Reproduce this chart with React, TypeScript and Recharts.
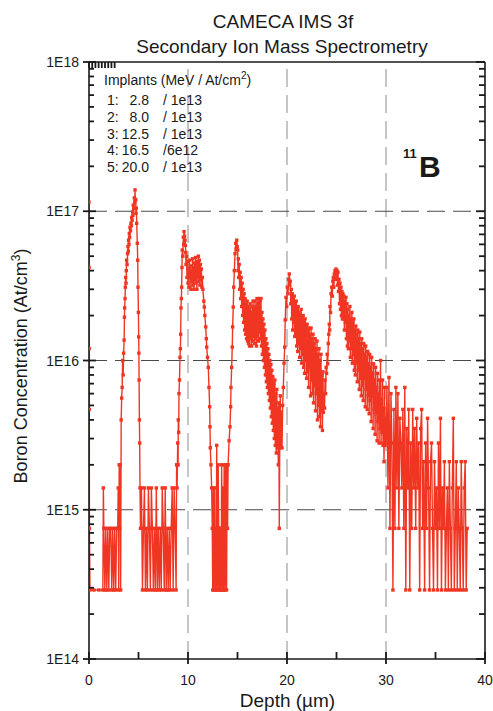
import React from "react";
import { LineChart, Line, XAxis, YAxis, ReferenceLine } from "recharts";

const INK = "#1a1a1a";
const TRACE = "#f03623";
const FONT = '"Liberation Sans", Arial, Helvetica, sans-serif';

// SIMS depth profile, [depth (µm), boron concentration (at/cm3)]
const surface = [
  [0, 1.15e17], [0.01, 4.2e16], [0.02, 1.2e16], [0.03, 4.7e15], [0.04, 7.5e14], [0.1, 2.9e14],
];

const background0 = [
  [0.5, 2.9e14], [1.0, 2.9e14], [1.4, 2.9e14], [1.45, 1.4e15], [1.5, 7.5e14], [1.6, 2.9e14],
  [1.7, 7.5e14], [1.8, 2.9e14], [1.9, 7.5e14], [2.0, 2.9e14], [2.1, 7.5e14], [2.2, 7.5e14],
  [2.3, 2.9e14], [2.4, 7.5e14], [2.5, 2.9e14], [2.6, 7.5e14], [2.7, 2.9e14], [2.8, 7.5e14],
  [2.9, 7.5e14],
];

const implant1 = [
  [2.95, 1.4e15], [3.0, 2.9e14], [3.05, 2.0e15], [3.1, 7.5e14], [3.15, 2.0e15], [3.2, 2.9e14],
  [3.25, 4.0e15], [3.3, 5.6e15], [3.35, 6.6e15], [3.4, 1.0e16], [3.45, 8.0e15], [3.5, 1.12e16],
  [3.55, 1.37e16], [3.58, 1.95e16], [3.6, 2.25e16], [3.64, 2.6e16], [3.67, 3.1e16], [3.7, 3.6e16],
  [3.74, 3.3e16], [3.77, 4.0e16], [3.8, 4.7e16], [3.85, 4.4e16], [3.9, 5.2e16], [3.94, 5.8e16],
  [3.97, 5.4e16], [4.0, 6.4e16], [4.04, 6.0e16], [4.07, 7.1e16], [4.1, 6.7e16], [4.14, 7.8e16],
  [4.19, 7.4e16], [4.24, 8.3e16], [4.28, 8.0e16], [4.31, 9.1e16], [4.36, 8.7e16], [4.41, 9.9e16],
  [4.44, 9.4e16], [4.47, 1.1e17], [4.52, 1.04e17], [4.58, 1.23e17], [4.62, 1.15e17], [4.65, 1.39e17],
  [4.68, 1.2e17], [4.72, 1.19e17], [4.75, 9.7e16], [4.78, 1.05e17], [4.82, 8.3e16], [4.88, 6.1e16],
  [4.92, 4.7e16], [4.95, 3.1e16], [4.99, 2.1e16], [5.02, 1.44e16], [5.04, 1.12e16], [5.06, 7.4e15],
  [5.09, 4.0e15], [5.12, 2.8e15], [5.15, 1.4e15], [5.2, 7.5e14],
];

const background1 = [
  [5.3, 1.4e15], [5.4, 2.9e14], [5.5, 7.5e14], [5.6, 1.4e15], [5.7, 2.9e14], [5.8, 7.5e14],
  [5.9, 2.9e14], [6.0, 1.4e15], [6.1, 7.5e14], [6.2, 2.9e14], [6.3, 1.4e15], [6.4, 7.5e14],
  [6.5, 2.9e14], [6.6, 7.5e14], [6.7, 2.9e14], [6.8, 1.4e15], [6.9, 2.9e14], [7.0, 7.5e14],
  [7.1, 2.9e14], [7.2, 7.5e14], [7.3, 2.9e14], [7.4, 1.4e15], [7.5, 7.5e14], [7.6, 2.9e14],
  [7.7, 1.4e15], [7.8, 2.9e14], [7.9, 7.5e14], [8.0, 2.9e14], [8.1, 7.5e14], [8.2, 2.9e14],
  [8.3, 7.5e14], [8.4, 1.4e15], [8.5, 2.9e14], [8.6, 1.4e15], [8.7, 7.5e14], [8.8, 2.9e14],
];

const implant2 = [
  [8.85, 2.0e15], [8.9, 1.4e15], [8.93, 2.0e15], [8.96, 2.8e15], [9.0, 2.0e15], [9.02, 4.0e15],
  [9.06, 3.3e15], [9.09, 6.0e15], [9.14, 7.4e15], [9.19, 1.05e16], [9.23, 1.2e16], [9.26, 1.5e16],
  [9.29, 2.25e16], [9.33, 2.6e16], [9.36, 3.1e16], [9.39, 4.2e16], [9.42, 5.5e16], [9.47, 5.0e16],
  [9.53, 6.7e16], [9.57, 6.0e16], [9.6, 7.3e16], [9.65, 6.8e16], [9.7, 6.4e16], [9.74, 5.9e16],
  [9.77, 5.3e16], [9.8, 4.4e16], [9.85, 5.0e16], [9.9, 3.6e16], [9.95, 4.6e16], [10.0, 3.3e16],
  [10.05, 4.1e16], [10.1, 3.1e16], [10.15, 4.7e16], [10.2, 3.6e16], [10.25, 4.3e16], [10.3, 3.0e16],
  [10.35, 4.0e16], [10.4, 3.4e16], [10.45, 4.8e16], [10.5, 3.2e16], [10.55, 4.2e16], [10.6, 3.0e16],
  [10.65, 4.5e16], [10.7, 3.5e16], [10.75, 4.9e16], [10.8, 3.3e16], [10.85, 4.4e16], [10.9, 3.0e16],
  [10.95, 4.6e16], [11.0, 3.6e16], [11.05, 5.0e16], [11.1, 3.4e16], [11.15, 4.7e16], [11.2, 3.2e16],
  [11.25, 4.4e16], [11.3, 3.5e16], [11.35, 4.1e16], [11.4, 3.1e16], [11.45, 3.6e16], [11.5, 3.0e16],
  [11.6, 2.5e16], [11.65, 2.28e16], [11.7, 2.0e16], [11.79, 1.68e16], [11.85, 1.4e16], [11.89, 1.23e16],
  [11.97, 1.05e16], [12.05, 9.0e15], [12.12, 6.6e15], [12.19, 4.9e15], [12.22, 3.6e15], [12.25, 2.6e15],
  [12.32, 2.0e15], [12.39, 1.4e15], [12.45, 7.5e14],
];

const background2 = [
  [12.5, 2.9e14], [12.55, 1.4e15], [12.6, 2.9e14], [12.65, 7.5e14], [12.7, 1.4e15], [12.75, 2.9e14],
  [12.8, 7.5e14], [12.85, 2.9e14], [12.9, 2.7e15], [12.95, 7.5e14], [13.0, 2.9e14], [13.05, 2.0e15],
  [13.1, 7.5e14], [13.15, 2.9e14], [13.2, 7.5e14], [13.25, 2.9e14], [13.3, 7.5e14], [13.35, 2.9e14],
  [13.4, 2.0e15], [13.45, 7.5e14], [13.5, 2.9e14], [13.55, 1.4e15], [13.6, 2.9e14], [13.65, 2.0e15],
  [13.7, 7.5e14], [13.75, 2.9e14], [13.8, 2.0e15], [13.85, 1.4e15], [13.9, 2.9e14], [13.95, 2.0e15],
  [14.0, 7.5e14], [14.05, 2.0e15],
];

const implant3 = [
  [14.15, 2.9e15], [14.24, 3.6e15], [14.31, 4.9e15], [14.34, 6.6e15], [14.41, 9.0e15], [14.47, 1.23e16],
  [14.51, 1.68e16], [14.57, 2.28e16], [14.62, 3.1e16], [14.68, 4.0e16], [14.75, 5.2e16], [14.82, 6.1e16],
  [14.87, 5.6e16], [14.92, 6.4e16], [14.97, 5.8e16], [15.02, 5.5e16], [15.05, 4.0e16], [15.08, 4.8e16],
  [15.12, 3.6e16], [15.17, 4.4e16], [15.22, 3.0e16], [15.27, 3.9e16], [15.32, 2.6e16], [15.37, 3.6e16],
  [15.42, 2.3e16], [15.47, 3.3e16], [15.52, 2.0e16], [15.57, 3.0e16], [15.62, 1.8e16], [15.67, 2.8e16],
  [15.72, 1.6e16], [15.77, 2.6e16], [15.82, 1.5e16], [15.87, 2.4e16], [15.92, 1.4e16], [15.97, 2.5e16],
  [16.02, 1.35e16], [16.07, 2.3e16], [16.12, 1.3e16], [16.17, 2.2e16], [16.22, 1.25e16], [16.27, 2.4e16],
  [16.32, 1.4e16], [16.37, 2.1e16], [16.42, 1.25e16], [16.47, 2.3e16], [16.52, 1.35e16], [16.57, 2.5e16],
  [16.62, 1.45e16], [16.67, 2.2e16], [16.72, 1.3e16], [16.77, 2.5e16], [16.82, 1.4e16], [16.87, 2.3e16],
  [16.92, 1.25e16], [16.97, 2.6e16], [17.02, 1.45e16], [17.07, 2.4e16], [17.12, 1.35e16], [17.17, 2.6e16],
  [17.22, 1.55e16], [17.27, 2.5e16], [17.32, 1.4e16], [17.37, 2.6e16], [17.42, 1.25e16], [17.47, 2.1e16],
  [17.52, 1.1e16], [17.57, 1.9e16], [17.62, 1.0e16], [17.67, 1.75e16], [17.72, 9.0e15], [17.77, 1.6e16],
  [17.82, 8.0e15], [17.87, 1.4e16], [17.92, 7.2e15], [17.97, 1.3e16], [18.02, 6.6e15], [18.07, 1.2e16],
  [18.12, 6.0e15], [18.17, 1.1e16], [18.22, 5.4e15], [18.27, 1.0e16], [18.32, 4.8e15], [18.37, 9.4e15],
  [18.42, 4.2e15], [18.47, 8.6e15], [18.52, 3.8e15], [18.57, 7.8e15], [18.62, 3.4e15], [18.67, 7.0e15],
  [18.72, 3.0e15], [18.77, 7.4e15], [18.82, 2.7e15], [18.87, 6.0e15], [18.92, 2.4e15], [18.97, 6.4e15],
  [19.02, 2.6e15], [19.07, 4.8e15], [19.12, 2.0e15], [19.17, 5.2e15], [19.22, 7.5e14], [19.27, 3.0e15],
  [19.32, 5.8e15], [19.37, 2.6e15], [19.42, 4.5e15],
];

const implant4 = [
  [19.5, 2.6e15], [19.56, 5.0e15], [19.63, 6.6e15], [19.7, 9.6e15], [19.77, 1.23e16], [19.82, 1.87e16],
  [19.9, 2.65e16], [19.97, 2.3e16], [20.03, 3.1e16], [20.1, 2.8e16], [20.17, 3.5e16], [20.23, 3.8e16],
  [20.28, 3.2e16], [20.33, 3.4e16], [20.38, 2.4e16], [20.43, 3.0e16], [20.48, 1.9e16], [20.53, 2.8e16],
  [20.58, 1.6e16], [20.63, 2.6e16], [20.68, 1.8e16], [20.73, 2.7e16], [20.78, 1.45e16], [20.83, 2.4e16],
  [20.88, 1.5e16], [20.93, 2.5e16], [20.98, 1.25e16], [21.03, 2.2e16], [21.08, 1.15e16], [21.13, 2.3e16],
  [21.18, 1.3e16], [21.23, 2.1e16], [21.28, 1.05e16], [21.33, 2.0e16], [21.38, 1.2e16], [21.43, 2.2e16],
  [21.48, 9.6e15], [21.53, 1.9e16], [21.58, 1.1e16], [21.63, 2.0e16], [21.68, 9.0e15], [21.73, 1.8e16],
  [21.78, 8.2e15], [21.83, 1.9e16], [21.88, 1.0e16], [21.93, 1.7e16], [21.98, 7.6e15], [22.03, 1.75e16],
  [22.08, 8.4e15], [22.13, 1.6e16], [22.18, 6.6e15], [22.23, 1.65e16], [22.28, 9.0e15], [22.33, 1.5e16],
  [22.38, 5.8e15], [22.43, 1.65e16], [22.48, 7.4e15], [22.53, 1.4e16], [22.58, 6.0e15], [22.63, 1.5e16],
  [22.68, 5.2e15], [22.73, 1.3e16], [22.78, 6.8e15], [22.83, 1.4e16], [22.88, 4.6e15], [22.93, 1.2e16],
  [22.98, 6.0e15], [23.03, 1.35e16], [23.08, 4.0e15], [23.13, 1.1e16], [23.18, 5.0e15], [23.23, 1.2e16],
  [23.28, 4.2e15], [23.33, 1.0e16], [23.38, 3.6e15], [23.43, 1.1e16], [23.48, 4.6e15], [23.53, 8.0e15],
  [23.58, 3.4e15], [23.63, 8.4e15], [23.68, 4.5e15],
];

const implant5 = [
  [23.74, 6.0e15], [23.8, 4.8e15], [23.84, 7.4e15], [23.9, 6.0e15], [23.95, 9.0e15], [24.0, 8.2e15],
  [24.06, 1.1e16], [24.11, 9.5e15], [24.17, 1.3e16], [24.22, 1.5e16], [24.27, 1.75e16], [24.31, 1.6e16],
  [24.34, 2.3e16], [24.4, 2.1e16], [24.45, 2.8e16], [24.52, 3.1e16], [24.58, 2.7e16], [24.63, 3.4e16],
  [24.68, 3.6e16], [24.73, 3.1e16], [24.78, 3.8e16], [24.85, 4.0e16], [24.9, 3.5e16], [24.95, 4.1e16],
  [25.0, 3.7e16], [25.05, 4.0e16], [25.1, 3.2e16], [25.15, 3.9e16], [25.2, 2.9e16], [25.25, 3.5e16],
  [25.3, 2.4e16], [25.35, 3.3e16], [25.4, 2.2e16], [25.45, 3.1e16], [25.5, 2.0e16], [25.55, 2.9e16],
  [25.6, 1.9e16], [25.65, 2.8e16], [25.7, 1.9e16], [25.75, 2.7e16], [25.8, 1.6e16], [25.85, 2.5e16],
  [25.9, 1.8e16], [25.95, 2.65e16], [26.0, 1.4e16], [26.05, 2.4e16], [26.1, 1.25e16], [26.15, 2.2e16],
  [26.2, 1.2e16], [26.25, 2.0e16], [26.3, 1.35e16], [26.35, 2.3e16], [26.4, 1.05e16], [26.45, 1.9e16],
  [26.5, 1.2e16], [26.55, 2.1e16], [26.6, 9.6e15], [26.65, 1.8e16], [26.7, 1.1e16], [26.75, 1.9e16],
  [26.8, 8.6e15], [26.85, 1.6e16], [26.9, 8.0e15], [26.95, 1.7e16], [27.0, 9.6e15], [27.05, 1.5e16],
  [27.1, 7.2e15], [27.15, 1.6e16], [27.2, 8.6e15], [27.25, 1.4e16], [27.3, 6.4e15], [27.35, 1.55e16],
  [27.4, 7.6e15], [27.45, 1.3e16], [27.5, 5.8e15], [27.55, 1.4e16], [27.6, 6.8e15], [27.65, 1.2e16],
  [27.7, 5.4e15], [27.75, 1.3e16], [27.8, 7.6e15], [27.85, 1.1e16], [27.9, 4.9e15], [27.95, 1.25e16],
  [28.0, 6.4e15], [28.05, 1.05e16], [28.1, 4.7e15], [28.15, 1.15e16], [28.2, 5.8e15], [28.25, 9.5e15],
  [28.3, 4.4e15], [28.35, 1.1e16], [28.4, 5.4e15], [28.45, 9.0e15], [28.5, 3.9e15], [28.55, 1.05e16],
  [28.6, 5.8e15], [28.65, 8.2e15], [28.7, 3.5e15], [28.75, 9.5e15], [28.8, 4.7e15], [28.85, 7.4e15],
  [28.9, 3.2e15], [28.95, 9.0e15], [29.0, 4.4e15], [29.05, 6.6e15], [29.1, 2.9e15], [29.15, 8.2e15],
  [29.2, 3.9e15], [29.25, 6.0e15], [29.3, 2.8e15], [29.35, 7.4e15], [29.4, 3.5e15], [29.45, 1.0e16],
  [29.5, 2.8e15], [29.55, 5.5e15], [29.6, 3.3e15], [29.65, 7.4e15], [29.7, 2.7e15], [29.75, 4.8e15],
  [29.8, 2.1e15], [29.85, 6.6e15], [29.9, 2.7e15], [29.95, 4.1e15],
];

const tail = [
  [30.0, 2.8e15], [30.1, 6.6e15], [30.2, 1.4e15], [30.3, 7.7e15], [30.4, 7.5e14], [30.5, 6.0e15],
  [30.6, 2.8e15], [30.7, 2.9e14], [30.8, 4.7e15], [30.9, 7.5e14], [31.0, 6.6e15], [31.1, 1.4e15],
  [31.2, 6.0e15], [31.3, 7.5e14], [31.4, 4.1e15], [31.5, 2.8e15], [31.6, 1.4e15], [31.7, 4.7e15],
  [31.8, 7.5e14], [31.9, 6.6e15], [32.0, 2.9e14], [32.1, 3.5e15], [32.2, 1.4e15], [32.3, 4.7e15],
  [32.4, 2.9e14], [32.5, 2.8e15], [32.6, 7.5e14], [32.7, 4.7e15], [32.8, 1.4e15], [32.9, 3.5e15],
  [33.0, 7.5e14], [33.1, 4.1e15], [33.2, 1.4e15], [33.3, 2.8e15], [33.4, 2.9e14], [33.5, 3.5e15],
  [33.6, 4.7e15], [33.7, 7.5e14], [33.8, 2.1e15], [33.9, 2.9e14], [34.0, 2.8e15], [34.1, 7.5e14],
  [34.2, 4.1e15], [34.3, 1.4e15], [34.4, 2.9e14], [34.5, 2.1e15], [34.6, 2.8e15], [34.7, 7.5e14],
  [34.8, 2.9e14], [34.9, 2.1e15], [35.0, 7.5e14], [35.1, 1.4e15], [35.2, 2.9e14], [35.3, 2.8e15],
  [35.4, 7.5e14], [35.5, 4.1e15], [35.6, 2.9e14], [35.7, 1.4e15], [35.8, 7.5e14], [35.9, 2.1e15],
  [36.0, 2.9e14], [36.1, 7.5e14], [36.2, 1.4e15], [36.3, 2.9e14], [36.4, 2.1e15], [36.5, 7.5e14],
  [36.6, 2.9e14], [36.7, 1.4e15], [36.8, 4.1e15], [36.9, 2.9e14], [37.0, 7.5e14], [37.1, 2.1e15],
  [37.2, 2.9e14], [37.3, 1.4e15], [37.4, 7.5e14], [37.5, 2.9e14], [37.6, 2.1e15], [37.7, 7.5e14],
  [37.8, 2.9e14], [37.9, 1.4e15], [38.0, 2.1e15], [38.1, 2.9e14], [38.2, 7.5e14],
];

const profile = [
  ...surface, ...background0, ...implant1, ...background1, ...implant2,
  ...background2, ...implant3, ...implant4, ...implant5, ...tail,
].map(([depth, conc]) => ({ depth, conc }));

const depthTicks = [0, 5, 10, 15, 20, 25, 30, 35, 40];
const concMajor = [1e14, 1e15, 1e16, 1e17, 1e18];
const minorSteps = [2, 3, 4, 5, 6, 7, 8, 9];
const concTicks = [
  ...concMajor,
  ...concMajor.slice(0, 4).flatMap((m) => minorSteps.map((k) => k * m)),
].sort((a, b) => a - b);

const gridDepths = [10, 20, 30];
const gridConcs = [1e15, 1e16, 1e17];

const implantIds = ["1:", "2:", "3:", "4:", "5:"];
const implantEnergy = ["2.8", "8.0", "12.5", "16.5", "20.0"];
const implantDose = ["/ 1e13", "/ 1e13", "/ 1e13", "/6e12", "/ 1e13"];

const isDecade = (v: number) => Number.isInteger(Math.log10(v));
const tickStroke = { stroke: INK, strokeWidth: 1.8 };

// tick marks are drawn by hand so they point into the plot, decades also cross the frame
function BottomTick(props: any) {
  const { x, y, payload } = props;
  const major = payload.value % 10 === 0;
  return (
    <g>
      <path d={`M${x},${major ? y + 5 : y}V${y - 7}`} fill="none" {...tickStroke} />
      {major && (
        <text x={x} y={y + 26} textAnchor="middle" fontSize={14} fontFamily={FONT} fill={INK}>
          {payload.value}
        </text>
      )}
    </g>
  );
}

function TopTick(props: any) {
  const { x, y } = props;
  return <path d={`M${x},${y}V${y + 6}`} fill="none" {...tickStroke} />;
}

function LeftTick(props: any) {
  const { x, y, payload } = props;
  const major = isDecade(payload.value);
  return (
    <g>
      <path d={`M${major ? x - 6 : x},${y}H${x + (major ? 7 : 5)}`} fill="none" {...tickStroke} />
      {major && (
        <text x={x - 10} y={y + 5} textAnchor="end" fontSize={14} fontFamily={FONT} fill={INK}>
          {"1E" + Math.round(Math.log10(payload.value))}
        </text>
      )}
    </g>
  );
}

function RightTick(props: any) {
  const { x, y, payload } = props;
  const len = isDecade(payload.value) ? 9 : 6;
  return <path d={`M${x - len},${y}H${x}`} fill="none" {...tickStroke} />;
}

const renderDot = (props: any) => (
  <rect
    key={`pt-${props.index}`}
    x={props.cx - 1.7}
    y={props.cy - 1.7}
    width={3.4}
    height={3.4}
    fill={TRACE}
  />
);

export default function App() {
  const frame = { stroke: INK, strokeWidth: 1.6 };
  return (
    <div style={{ position: "absolute", left: 0, top: 0, width: 493, height: 711, background: "#fff" }}>
      <LineChart width={493} height={711} data={profile} margin={{ top: 62, right: 8, bottom: 0, left: 0 }}>
        <XAxis
          dataKey="depth"
          type="number"
          domain={[0, 40]}
          allowDataOverflow
          ticks={depthTicks}
          interval={0}
          tickSize={0}
          tickMargin={0}
          tickLine={false}
          tick={(p: any) => <BottomTick {...p} />}
          axisLine={frame}
          height={52}
        />
        <XAxis
          xAxisId="top"
          orientation="top"
          mirror
          type="number"
          domain={[0, 40]}
          allowDataOverflow
          ticks={depthTicks}
          interval={0}
          tickSize={0}
          tickMargin={0}
          tickLine={false}
          tick={(p: any) => <TopTick {...p} />}
          axisLine={frame}
        />
        <YAxis
          type="number"
          scale="log"
          domain={[1e14, 1e18]}
          allowDataOverflow
          ticks={concTicks}
          interval={0}
          tickSize={0}
          tickMargin={0}
          tickLine={false}
          tick={(p: any) => <LeftTick {...p} />}
          axisLine={frame}
          width={89}
        />
        <YAxis
          yAxisId="right"
          orientation="right"
          mirror
          type="number"
          scale="log"
          domain={[1e14, 1e18]}
          allowDataOverflow
          ticks={concTicks}
          interval={0}
          tickSize={0}
          tickMargin={0}
          tickLine={false}
          tick={(p: any) => <RightTick {...p} />}
          axisLine={frame}
        />
        {gridDepths.map((d) => (
          <ReferenceLine key={`gx${d}`} x={d} stroke="#8c8c8c" strokeDasharray="18 8" />
        ))}
        {gridConcs.map((c) => (
          <ReferenceLine key={`gy${c}`} y={c} stroke="#4a4a4a" strokeDasharray="18 8" />
        ))}
        <Line
          dataKey="conc"
          type="linear"
          stroke={TRACE}
          strokeWidth={1.4}
          dot={renderDot}
          activeDot={false}
          isAnimationActive={false}
        />
      </LineChart>

      <svg
        width={493}
        height={711}
        style={{ position: "absolute", left: 0, top: 0, pointerEvents: "none" }}
        fontFamily={FONT}
        fill={INK}
      >
        <text x={283} y={28} textAnchor="middle" fontSize={19}>CAMECA IMS 3f</text>
        <text x={282} y={52.5} textAnchor="middle" fontSize={19}>Secondary Ion Mass Spectrometry</text>
        <text x={287.5} y={706.5} textAnchor="middle" fontSize={19}>Depth (µm)</text>
        <text transform="translate(27 366) rotate(-90)" textAnchor="middle" fontSize={18}>
          Boron Concentration (At/cm<tspan dy={-7} fontSize={12}>3</tspan><tspan dy={7}>)</tspan>
        </text>

        <text x={104} y={85} fontSize={14}>
          Implants (MeV / At/cm<tspan dy={-6} fontSize={10}>2</tspan><tspan dy={6}>)</tspan>
        </text>
        {implantIds.map((id, i) => (
          <g key={id}>
            <text x={107} y={105 + i * 16.8} fontSize={14}>{id}</text>
            <text x={149} y={105 + i * 16.8} fontSize={14} textAnchor="end">{implantEnergy[i]}</text>
            <text x={163} y={105 + i * 16.8} fontSize={14}>{implantDose[i]}</text>
          </g>
        ))}

        <text x={403} y={158} fontSize={13} fontWeight="bold">11</text>
        <text x={419} y={177} fontSize={30} fontWeight="bold">B</text>
      </svg>
    </div>
  );
}
